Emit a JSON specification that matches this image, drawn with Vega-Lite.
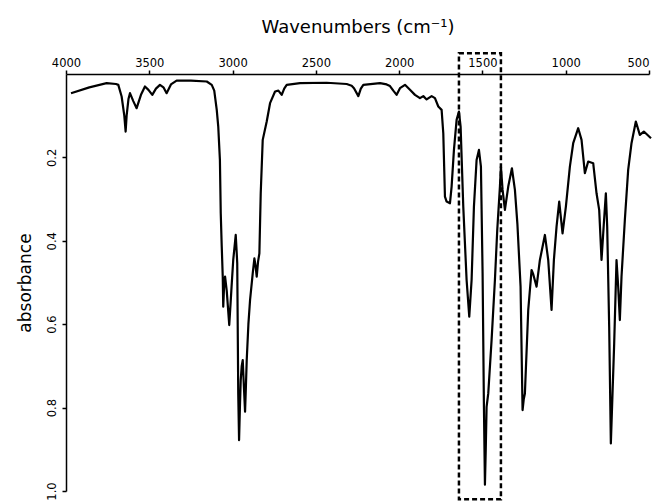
{
  "$schema": "https://vega.github.io/schema/vega-lite/v6.json",
  "width": 583,
  "height": 417,
  "autosize": {"type": "none"},
  "padding": {"left": 66, "top": 74, "right": 6, "bottom": 11},
  "background": "white",
  "config": {
    "view": {"stroke": null},
    "font": "DejaVu Sans",
    "axis": {"grid": false, "domainColor": "black", "tickColor": "black", "labelColor": "black", "titleColor": "black", "domainWidth": 1.5, "tickWidth": 1.5, "tickSize": 4, "labelFont": "DejaVu Sans", "titleFont": "DejaVu Sans", "labelFontSize": 11.5, "titleFontSize": 18, "titleFontWeight": "normal"}
  },
  "datasets": {
    "spectrum": [
      {"wn": 3970, "a": 0.046}, {"wn": 3860, "a": 0.032}, {"wn": 3756, "a": 0.022}, {"wn": 3700, "a": 0.024},
      {"wn": 3686, "a": 0.026}, {"wn": 3666, "a": 0.054}, {"wn": 3650, "a": 0.10}, {"wn": 3642, "a": 0.138},
      {"wn": 3636, "a": 0.10}, {"wn": 3625, "a": 0.06}, {"wn": 3616, "a": 0.046}, {"wn": 3596, "a": 0.065},
      {"wn": 3576, "a": 0.082}, {"wn": 3550, "a": 0.05}, {"wn": 3526, "a": 0.030}, {"wn": 3505, "a": 0.038},
      {"wn": 3482, "a": 0.050}, {"wn": 3460, "a": 0.035}, {"wn": 3436, "a": 0.026}, {"wn": 3415, "a": 0.032},
      {"wn": 3396, "a": 0.046}, {"wn": 3370, "a": 0.025}, {"wn": 3336, "a": 0.016}, {"wn": 3250, "a": 0.016},
      {"wn": 3155, "a": 0.018}, {"wn": 3125, "a": 0.026}, {"wn": 3110, "a": 0.040}, {"wn": 3095, "a": 0.086},
      {"wn": 3086, "a": 0.126}, {"wn": 3076, "a": 0.206}, {"wn": 3071, "a": 0.334}, {"wn": 3065, "a": 0.414},
      {"wn": 3059, "a": 0.486}, {"wn": 3056, "a": 0.558}, {"wn": 3050, "a": 0.50}, {"wn": 3045, "a": 0.486},
      {"wn": 3035, "a": 0.52}, {"wn": 3020, "a": 0.602}, {"wn": 3012, "a": 0.55}, {"wn": 3006, "a": 0.51},
      {"wn": 2996, "a": 0.446}, {"wn": 2981, "a": 0.386}, {"wn": 2975, "a": 0.43}, {"wn": 2972, "a": 0.454},
      {"wn": 2966, "a": 0.766}, {"wn": 2961, "a": 0.878}, {"wn": 2956, "a": 0.80}, {"wn": 2951, "a": 0.734},
      {"wn": 2945, "a": 0.70}, {"wn": 2939, "a": 0.686}, {"wn": 2932, "a": 0.75}, {"wn": 2925, "a": 0.81},
      {"wn": 2920, "a": 0.75}, {"wn": 2915, "a": 0.686}, {"wn": 2905, "a": 0.60}, {"wn": 2895, "a": 0.542},
      {"wn": 2879, "a": 0.478}, {"wn": 2869, "a": 0.442}, {"wn": 2862, "a": 0.46}, {"wn": 2855, "a": 0.486},
      {"wn": 2847, "a": 0.45}, {"wn": 2839, "a": 0.43}, {"wn": 2831, "a": 0.286}, {"wn": 2819, "a": 0.158},
      {"wn": 2795, "a": 0.114}, {"wn": 2775, "a": 0.07}, {"wn": 2745, "a": 0.042}, {"wn": 2725, "a": 0.040},
      {"wn": 2705, "a": 0.050}, {"wn": 2690, "a": 0.035}, {"wn": 2675, "a": 0.026}, {"wn": 2595, "a": 0.022},
      {"wn": 2435, "a": 0.021}, {"wn": 2315, "a": 0.024}, {"wn": 2285, "a": 0.028}, {"wn": 2271, "a": 0.034},
      {"wn": 2245, "a": 0.053}, {"wn": 2230, "a": 0.035}, {"wn": 2215, "a": 0.026}, {"wn": 2115, "a": 0.022},
      {"wn": 2075, "a": 0.025}, {"wn": 2055, "a": 0.029}, {"wn": 2035, "a": 0.04}, {"wn": 2015, "a": 0.050},
      {"wn": 1995, "a": 0.034}, {"wn": 1965, "a": 0.026}, {"wn": 1935, "a": 0.038}, {"wn": 1905, "a": 0.050},
      {"wn": 1875, "a": 0.058}, {"wn": 1855, "a": 0.053}, {"wn": 1835, "a": 0.061}, {"wn": 1805, "a": 0.053},
      {"wn": 1785, "a": 0.058}, {"wn": 1765, "a": 0.078}, {"wn": 1745, "a": 0.086}, {"wn": 1735, "a": 0.142},
      {"wn": 1725, "a": 0.294}, {"wn": 1715, "a": 0.306}, {"wn": 1695, "a": 0.310}, {"wn": 1685, "a": 0.270},
      {"wn": 1671, "a": 0.182}, {"wn": 1655, "a": 0.110}, {"wn": 1641, "a": 0.090}, {"wn": 1631, "a": 0.126},
      {"wn": 1615, "a": 0.318}, {"wn": 1595, "a": 0.494}, {"wn": 1579, "a": 0.582}, {"wn": 1565, "a": 0.494},
      {"wn": 1551, "a": 0.318}, {"wn": 1535, "a": 0.206}, {"wn": 1521, "a": 0.182}, {"wn": 1509, "a": 0.222},
      {"wn": 1499, "a": 0.478}, {"wn": 1491, "a": 0.798}, {"wn": 1485, "a": 0.985}, {"wn": 1480, "a": 0.90},
      {"wn": 1475, "a": 0.798}, {"wn": 1465, "a": 0.766}, {"wn": 1445, "a": 0.638}, {"wn": 1425, "a": 0.494},
      {"wn": 1411, "a": 0.374}, {"wn": 1395, "a": 0.270}, {"wn": 1389, "a": 0.222}, {"wn": 1379, "a": 0.278},
      {"wn": 1365, "a": 0.326}, {"wn": 1345, "a": 0.270}, {"wn": 1323, "a": 0.226}, {"wn": 1305, "a": 0.278},
      {"wn": 1290, "a": 0.36}, {"wn": 1271, "a": 0.51}, {"wn": 1259, "a": 0.806}, {"wn": 1252, "a": 0.78},
      {"wn": 1245, "a": 0.766}, {"wn": 1225, "a": 0.566}, {"wn": 1205, "a": 0.47}, {"wn": 1195, "a": 0.48},
      {"wn": 1175, "a": 0.51}, {"wn": 1155, "a": 0.446}, {"wn": 1125, "a": 0.386}, {"wn": 1105, "a": 0.446},
      {"wn": 1085, "a": 0.566}, {"wn": 1071, "a": 0.446}, {"wn": 1055, "a": 0.366}, {"wn": 1039, "a": 0.306},
      {"wn": 1019, "a": 0.382}, {"wn": 999, "a": 0.318}, {"wn": 975, "a": 0.222}, {"wn": 955, "a": 0.166},
      {"wn": 925, "a": 0.130}, {"wn": 905, "a": 0.158}, {"wn": 885, "a": 0.238}, {"wn": 865, "a": 0.210},
      {"wn": 835, "a": 0.214}, {"wn": 815, "a": 0.286}, {"wn": 799, "a": 0.326}, {"wn": 785, "a": 0.446},
      {"wn": 771, "a": 0.358}, {"wn": 759, "a": 0.286}, {"wn": 751, "a": 0.366}, {"wn": 739, "a": 0.606},
      {"wn": 729, "a": 0.886}, {"wn": 719, "a": 0.766}, {"wn": 709, "a": 0.646}, {"wn": 695, "a": 0.446},
      {"wn": 685, "a": 0.51}, {"wn": 675, "a": 0.59}, {"wn": 665, "a": 0.486}, {"wn": 645, "a": 0.35},
      {"wn": 625, "a": 0.23}, {"wn": 605, "a": 0.166}, {"wn": 579, "a": 0.114}, {"wn": 555, "a": 0.146},
      {"wn": 531, "a": 0.138}, {"wn": 488, "a": 0.154}
    ],
    "box": [{"x1": 1641, "x2": 1389, "y1": -0.05, "y2": 1.02}]
  },
  "layer": [
    {
      "data": {"name": "spectrum"},
      "mark": {"type": "line", "color": "black", "strokeWidth": 2.2, "strokeJoin": "round"},
      "encoding": {
        "x": {
          "field": "wn", "type": "quantitative",
          "scale": {"domain": [4000, 500], "nice": false, "zero": false},
          "axis": {
            "orient": "top", "title": "Wavenumbers (cm⁻¹)", "values": [4000, 3500, 3000, 2500, 2000, 1500, 1000, 500],
            "format": "d", "labelPadding": 2, "titlePadding": 21,
            "labelAlign": {"expr": "datum.value == 500 ? 'right' : 'center'"}
          }
        },
        "y": {
          "field": "a", "type": "quantitative",
          "scale": {"domain": [0, 1], "reverse": true, "nice": false, "zero": false},
          "axis": {
            "orient": "left", "title": "absorbance", "titleFontSize": 17, "values": [0.2, 0.4, 0.6, 0.8, 1.0], "format": ".1f",
            "labelAngle": -90, "labelPadding": 5, "titlePadding": 12
          }
        }
      }
    },
    {
      "data": {"name": "box"},
      "mark": {"type": "rect", "fillOpacity": 0, "stroke": "black", "strokeWidth": 2.5, "strokeDash": [5, 3], "clip": false},
      "encoding": {
        "x": {"field": "x1", "type": "quantitative"},
        "x2": {"field": "x2"},
        "y": {"field": "y1", "type": "quantitative"},
        "y2": {"field": "y2"}
      }
    }
  ]
}
